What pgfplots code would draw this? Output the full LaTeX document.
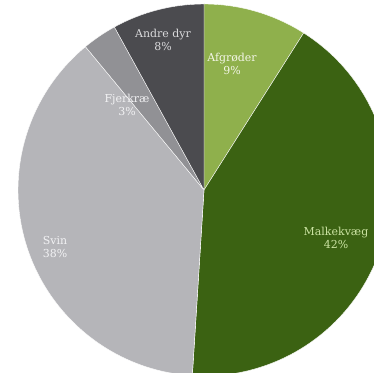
\documentclass[border=0pt]{standalone}
\usepackage{fontspec}
\setmainfont{DejaVu Serif}
\usepackage{pgfplots}
\usepackage{pgfplotstable}
\pgfplotsset{compat=1.18}
\definecolor{slicecol0}{HTML}{8FB04C}
\definecolor{slicecol1}{HTML}{3B6212}
\definecolor{slicecol2}{HTML}{B5B5B9}
\definecolor{slicecol3}{HTML}{919195}
\definecolor{slicecol4}{HTML}{4B4B4F}
\definecolor{labcol0}{HTML}{F4F6E8}
\definecolor{labcol1}{HTML}{CBE3A2}
\definecolor{labcol2}{HTML}{F2F2F4}
\definecolor{labcol3}{HTML}{F2F2F4}
\definecolor{labcol4}{HTML}{DADADC}
\pgfplotstableread[col sep=comma]{
label,pct,lx,ly
Afgrøder,9,232,-64
Malkekvæg,42,336,-238
Svin,38,55,-247
Fjerkræ,3,127,-105
Andre dyr,8,163,-40
}\piedata
\begin{document}
\begin{tikzpicture}
\begin{axis}[
  scale only axis, width=374bp, height=373bp,
  xmin=0, xmax=374, ymin=-373, ymax=0,
  hide axis, clip=true,
]
\def\startang{0}
\pgfplotsforeachungrouped \i in {0,...,4}{%
  \pgfplotstablegetelem{\i}{pct}\of\piedata
  \pgfmathsetmacro\endang{\startang+3.6*\pgfplotsretval}%
  \pgfmathsetmacro\aone{90-\startang}%
  \pgfmathsetmacro\atwo{90-\endang}%
  \edef\cmd{\noexpand\fill[fill=slicecol\i, draw=white, line width=0.4pt] (axis cs:204,-190) -- ++(\aone:186bp) arc[start angle=\aone, end angle=\atwo, radius=186bp] -- cycle;}%
  \cmd
  \global\let\startang\endang
}
\pgfplotsforeachungrouped \i in {0,...,4}{%
  \pgfplotstablegetelem{\i}{label}\of\piedata \let\lab\pgfplotsretval
  \pgfplotstablegetelem{\i}{pct}\of\piedata \let\pc\pgfplotsretval
  \pgfplotstablegetelem{\i}{lx}\of\piedata \let\lx\pgfplotsretval
  \pgfplotstablegetelem{\i}{ly}\of\piedata \let\ly\pgfplotsretval
  \edef\cmd{\noexpand\node[text=labcol\i, align=center, font=\noexpand\fontsize{11}{13}\noexpand\selectfont, inner sep=0pt] at (axis cs:\lx,\ly) {\lab\noexpand\\\pc\noexpand\%};}%
  \cmd
}
\end{axis}
\pgfresetboundingbox
\path (current axis.south west) rectangle (current axis.north east);
\end{tikzpicture}
\end{document}
